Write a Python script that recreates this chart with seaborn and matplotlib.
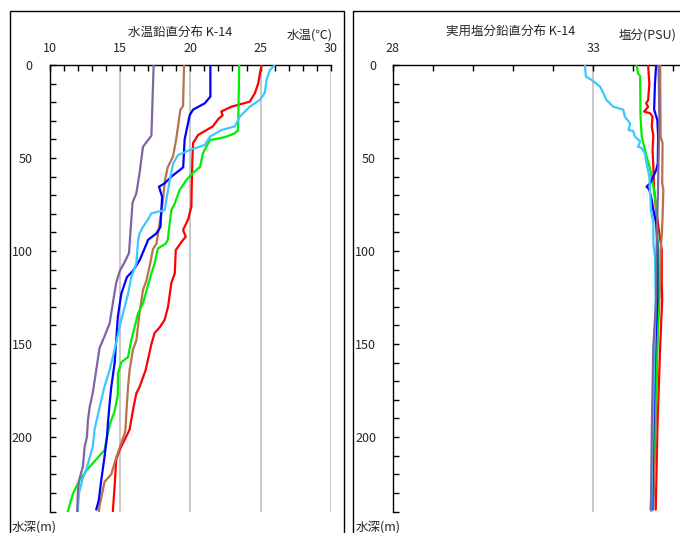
import pandas as pd
import matplotlib
matplotlib.use("Agg")
import matplotlib.pyplot as plt
from matplotlib.patches import Rectangle
from matplotlib.ticker import MultipleLocator, FixedLocator, FixedFormatter
import seaborn as sns

sns.set_theme(style="white")
plt.rcParams["font.family"] = ["Noto Sans CJK JP", "DejaVu Sans"]

# ── Data ──────────────────────────────────────────────────
STATIONS = ["red", "brown", "green", "blue", "lightblue", "purple"]
COLORS = {"red": "#ff0000", "brown": "#b8704f", "green": "#00ee00",
          "blue": "#0000ff", "lightblue": "#3cc8ff", "purple": "#8064a2"}

# water temperature (°C) vs depth (m)
t_depth_red = [0, 4.5, 9.9, 15, 19.7, 22.4, 25, 27, 29, 33, 35, 37.6, 42, 51, 67, 76, 83, 88.7,
               92.3, 94, 99.5, 112, 117, 130, 137, 141, 144, 150, 164, 173, 176.5, 185.5,
               196, 207, 212, 226, 240]
t_red = [25.07, 24.95, 24.83, 24.6, 24.23, 22.93, 22.2, 22.3, 22.0, 21.6, 21.15, 20.56, 20.2,
         20.15, 20.1, 20.08, 19.85, 19.49, 19.68, 19.49, 18.97, 18.9, 18.66, 18.42, 18.18,
         17.83, 17.47, 17.24, 16.83, 16.4, 16.17, 15.93, 15.69, 14.98, 14.74, 14.63, 14.5]

t_depth_brown = [0, 22, 24, 40, 49, 55, 62, 72, 85, 94, 96, 99, 108, 116, 121, 133, 148, 153,
                 164, 173, 187, 196, 198, 211, 220, 224, 237, 240]
t_brown = [19.56, 19.49, 19.3, 19.0, 18.78, 18.4, 18.2, 18.07, 17.83, 17.64, 17.6, 17.35,
           17.12, 16.88, 16.64, 16.4, 16.17, 15.93, 15.69, 15.58, 15.46, 15.4, 15.34, 14.74,
           14.39, 13.91, 13.56, 13.5]

t_depth_green = [0, 35, 36.7, 38.5, 39.4, 40.3, 47.5, 54.7, 58, 61.8, 67.2, 74.4, 78, 85, 94,
                 96, 98.6, 106.6, 112, 128, 133.5, 140.7, 148, 157, 159.8, 166, 177, 186, 193,
                 201.6, 207, 212, 217, 223, 230.5, 240]
t_green = [23.48, 23.4, 23.17, 22.57, 22.1, 21.4, 20.9, 20.7, 20.2, 19.73, 19.25, 18.9, 18.66,
           18.54, 18.4, 18.26, 17.7, 17.47, 17.24, 16.64, 16.29, 16.05, 15.81, 15.58, 15.1,
           14.86, 14.86, 14.63, 14.3, 14.04, 13.91, 13.32, 12.73, 12.14, 11.66, 11.3]

t_depth_blue = [0, 17, 20.6, 24, 27, 31, 40, 55, 56.5, 60, 63.6, 65.4, 70.8, 78, 87, 90.5, 94,
                96, 105, 110.6, 114, 123, 135, 148, 160, 173, 182, 192.6, 200, 210.6, 223,
                234, 239]
t_blue = [21.43, 21.43, 21.03, 20.2, 19.96, 19.85, 19.6, 19.5, 19.25, 18.66, 18.18, 17.78,
          18.0, 17.95, 17.88, 17.6, 17.0, 16.9, 16.4, 15.93, 15.5, 15.1, 14.86, 14.74, 14.63,
          14.39, 14.27, 14.15, 14.08, 13.91, 13.68, 13.5, 13.32]

t_depth_lightblue = [0, 2.7, 8, 15, 18.8, 22.4, 27.8, 33, 35, 38.5, 43, 45.7, 48.4, 53, 62,
                     72.6, 78, 79.7, 83, 87, 90.5, 94, 106.6, 114, 123, 130, 140.7, 153, 164,
                     173, 184, 196, 205, 217.6, 222, 230, 240]
t_lightblue = [26.0, 25.66, 25.42, 25.3, 24.95, 24.23, 23.52, 23.17, 22.2, 21.4, 21.03, 19.96,
               19.13, 18.78, 18.54, 18.3, 18.18, 17.24, 17.0, 16.64, 16.4, 16.3, 16.17, 15.81,
               15.58, 15.34, 14.98, 14.63, 14.27, 13.9, 13.56, 13.2, 13.08, 12.61, 12.37,
               12.1, 12.0]

t_depth_purple = [0, 38, 44, 58, 69, 74, 90, 101, 105, 111, 117, 128, 139, 146, 152, 164, 176,
                  184, 191, 200, 205, 216, 222, 228, 240]
t_purple = [17.4, 17.24, 16.64, 16.4, 16.17, 15.9, 15.75, 15.65, 15.4, 14.98, 14.74, 14.5,
            14.27, 13.9, 13.56, 13.32, 13.08, 12.85, 12.73, 12.66, 12.5, 12.37, 12.14, 12.02,
            11.97]

# practical salinity (PSU) vs depth (m)
s_depth_red = [0, 10, 18.8, 20.6, 22.5, 25, 26, 27.8, 33, 38, 45.7, 54.7, 67, 78, 90.5, 99.5,
               117, 126, 151.5, 196, 239]
s_red = [34.37, 34.4, 34.37, 34.32, 34.37, 34.27, 34.42, 34.48, 34.46, 34.5, 34.48, 34.5,
         34.52, 34.57, 34.65, 34.71, 34.71, 34.72, 34.67, 34.6, 34.56]

s_depth_brown = [0, 38.5, 42, 63.6, 67, 81.5, 92, 99.5, 117, 151, 196, 239]
s_brown = [34.67, 34.68, 34.73, 34.72, 34.75, 34.73, 34.71, 34.68, 34.67, 34.6, 34.56, 34.5]

s_depth_green = [0, 4.5, 6, 27.8, 38.5, 42, 49, 56, 65, 76, 92, 108, 126, 151, 196, 239]
s_green = [34.08, 34.12, 34.17, 34.18, 34.21, 34.25, 34.33, 34.42, 34.5, 34.57, 34.6, 34.62,
           34.63, 34.6, 34.53, 34.43]

s_depth_blue = [0, 10, 24, 29.6, 38.5, 53, 56.5, 63.6, 65.4, 67, 72.6, 78, 85, 96, 126, 151,
                196, 239]
s_blue = [34.57, 34.54, 34.52, 34.6, 34.62, 34.61, 34.57, 34.42, 34.33, 34.4, 34.46, 34.5,
          34.57, 34.6, 34.6, 34.55, 34.5, 34.47]

s_depth_lightblue = [0, 6.3, 8, 11.6, 15, 18.8, 22.4, 24, 27.8, 31.4, 35, 35.5, 38.5, 41, 44,
                     44.5, 47.5, 53, 60, 69, 78, 85, 96, 103, 126, 160, 200, 240]
s_lightblue = [32.79, 32.82, 32.96, 33.17, 33.25, 33.33, 33.5, 33.75, 33.79, 33.92, 33.88,
               34.0, 34.04, 34.17, 34.12, 34.2, 34.29, 34.33, 34.4, 34.42, 34.44, 34.5, 34.5,
               34.54, 34.56, 34.52, 34.48, 34.45]

s_depth_purple = [0, 28, 63, 81, 99, 126, 151, 196, 239]
s_purple = [34.63, 34.65, 34.62, 34.6, 34.58, 34.57, 34.5, 34.46, 34.44]

temp_series = {"red": (t_depth_red, t_red), "brown": (t_depth_brown, t_brown),
               "green": (t_depth_green, t_green), "blue": (t_depth_blue, t_blue),
               "lightblue": (t_depth_lightblue, t_lightblue),
               "purple": (t_depth_purple, t_purple)}
sal_series = {"red": (s_depth_red, s_red), "brown": (s_depth_brown, s_brown),
              "green": (s_depth_green, s_green), "blue": (s_depth_blue, s_blue),
              "lightblue": (s_depth_lightblue, s_lightblue),
              "purple": (s_depth_purple, s_purple)}

TEMP_TICKS = [10, 15, 20, 25, 30]
TEMP_LABELS = ["10", "15", "20", "25", "30"]
SAL_TICKS = [28, 33, 38]
SAL_LABELS = ["28", "33", ""]   # 38 lies outside the cropped picture


def to_long(series):
    return pd.concat([pd.DataFrame({"station": k, "depth": d, "value": v})
                      for k, (d, v) in series.items()], ignore_index=True)


df_t = to_long(temp_series)
df_s = to_long(sal_series)

# ── Figure layout (pixel-based) ───────────────────────────
W, H = 680, 533
fig = plt.figure(figsize=(W / 100, H / 100), dpi=100)
fig.patch.set_facecolor("white")


def rect(x0, y0, x1, y1):
    return [x0 / W, 1 - y1 / H, (x1 - x0) / W, (y1 - y0) / H]


ax1 = fig.add_axes(rect(49.5, 65, 331, 511.5))
ax2 = fig.add_axes(rect(392.7, 65, 793.7, 511.5))

for ax, df, ticks, labels in [(ax1, df_t, TEMP_TICKS, TEMP_LABELS),
                              (ax2, df_s, SAL_TICKS, SAL_LABELS)]:
    sns.lineplot(data=df, x="value", y="depth", hue="station", hue_order=STATIONS,
                 palette=COLORS, sort=False, estimator=None, orient="y",
                 lw=1.6, legend=False, ax=ax, zorder=3)
    ax.set_xlim(ticks[0], ticks[-1])
    ax.set_ylim(240, 0)
    ax.set_xlabel("")
    ax.set_ylabel("")
    ax.set_facecolor("white")
    ax.xaxis.tick_top()
    ax.xaxis.set_major_locator(FixedLocator(ticks))
    ax.xaxis.set_major_formatter(FixedFormatter(labels))
    ax.xaxis.set_minor_locator(MultipleLocator(1))
    ax.yaxis.set_major_locator(MultipleLocator(50))
    ax.yaxis.set_minor_locator(MultipleLocator(10))
    ax.tick_params(axis="x", which="both", direction="in", top=True, bottom=False,
                   length=4, width=1, color="black", labelsize=9, pad=7)
    ax.tick_params(axis="y", which="both", direction="in", left=True, right=False,
                   length=4, width=1, color="black", labelsize=9, pad=12)
    ax.grid(axis="x", which="major", color="#c8c8c8", lw=1.4, zorder=1)
    ax.grid(axis="y", visible=False)
    for side in ["right", "bottom"]:
        ax.spines[side].set_visible(False)
    for side in ["top", "left"]:
        ax.spines[side].set_color("black")
        ax.spines[side].set_linewidth(1)

# ── Outer frames and texts ────────────────────────────────
for x0, x1 in [(10, 344), (353, 720)]:
    fig.patches.append(Rectangle((x0 / W, 1 - 560 / H), (x1 - x0) / W, (560 - 10.7) / H,
                                 transform=fig.transFigure, fill=False,
                                 edgecolor="black", lw=1))

fig.text(180 / W, 1 - 32 / H, "水温鉛直分布 K-14", ha="center", va="center", fontsize=9)
fig.text(310 / W, 1 - 35 / H, "水温(℃)", ha="center", va="center", fontsize=9)
fig.text(511 / W, 1 - 32 / H, "実用塩分鉛直分布 K-14", ha="center", va="center", fontsize=9)
fig.text(648 / W, 1 - 35 / H, "塩分(PSU)", ha="center", va="center", fontsize=9)
fig.text(12 / W, 1 - 527 / H, "水深(m)", ha="left", va="center", fontsize=9)
fig.text(356 / W, 1 - 527 / H, "水深(m)", ha="left", va="center", fontsize=9)

fig.savefig("out.png", dpi=100)
